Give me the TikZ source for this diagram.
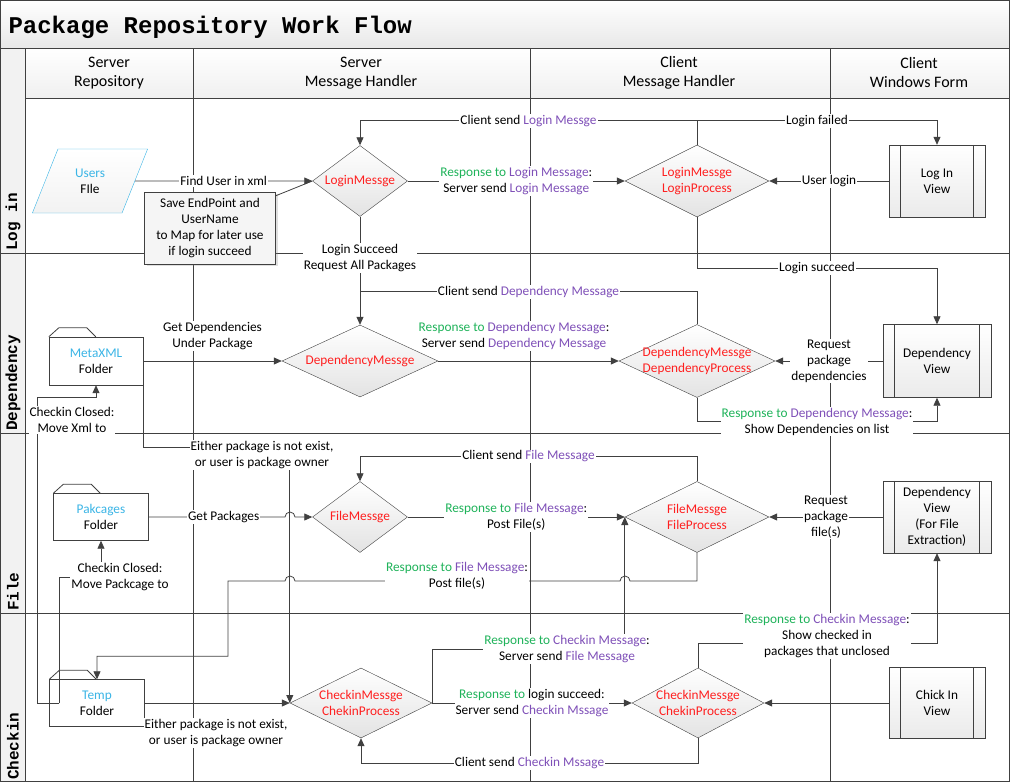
\documentclass[tikz,border=0pt]{standalone}
\usepackage{fontspec}
\setmainfont{Carlito}
\setmonofont{Liberation Mono}
\usepackage{tikz}
\usetikzlibrary{arrows.meta,positioning,calc,shapes.geometric,shadows}

\definecolor{linegray}{HTML}{404040}
\definecolor{pkgcyan}{HTML}{3BB5E6}
\definecolor{pkgred}{HTML}{FF1F1F}
\definecolor{pkggreen}{HTML}{1FB35A}
\definecolor{pkgpurple}{HTML}{7F50B8}

\newcommand{\resp}[1]{\textcolor{pkggreen}{#1}}
\newcommand{\msg}[1]{\textcolor{pkgpurple}{#1}}
\newcommand{\src}[1]{\textcolor{pkgcyan}{#1}}

\tikzset{
  frame/.style={draw=linegray, line width=0.8pt},
  flow/.style={draw=linegray, line width=0.8pt, -{Triangle[length=8pt,width=7pt]}},
  plain/.style={draw=linegray, line width=0.8pt},
  lbl/.style={fill=white, inner sep=1pt, align=center},
  hdr/.style={font=\fontsize{16}{19}\selectfont, align=center},
  lanelbl/.style={font=\ttfamily\bfseries\fontsize{16}{19}\selectfont, rotate=90, anchor=west, inner sep=0pt},
  decision/.style={diamond, draw=linegray, top color=white, bottom color=gray!22,
    text=pkgred, align=center, inner xsep=-9pt, inner ysep=0pt},
  view/.style={rectangle, draw=linegray, top color=white, bottom color=gray!16, align=center, inner sep=1pt},
  folder/.style={rectangle, draw=linegray, fill=white, align=center, minimum width=95, minimum height=47},
  datafile/.style={trapezium, trapezium left angle=65, trapezium right angle=115, trapezium stretches=true,
    draw=pkgcyan, top color=white, bottom color=gray!10, minimum width=116, minimum height=64, align=center},
  note/.style={rectangle, draw=linegray, fill=gray!8, align=center, minimum width=131, minimum height=72,
    drop shadow={opacity=0.25, shadow xshift=2pt, shadow yshift=-2pt}}
}

\begin{document}
\begin{tikzpicture}[x=1pt, y=-1pt, font=\fontsize{13.3}{16}\selectfont]
  \useasboundingbox (0,0) rectangle (1010,782);
  % backgrounds
  \shade[top color=white, bottom color=gray!18] (0,0) rectangle (1010,48);
  \shade[top color=white, bottom color=gray!12] (25,48) rectangle (1010,98);
  \fill[gray!10] (0,48) rectangle (25,782);
  % swimlane grid
  \draw[frame] (0.5,0.5) rectangle (1009.5,781.5);
  \draw[frame] (0,48) -- (1010,48);
  \draw[frame] (25,98) -- (1010,98);
  \foreach \y in {253,433,613} \draw[frame] (0,\y) -- (1010,\y);
  \draw[frame] (25,48) -- (25,782);
  \foreach \x in {193,530,830} \draw[plain] (\x,48) -- (\x,782);

  % title and headers
  \node[anchor=base west, font=\ttfamily\bfseries\fontsize{24}{28}\selectfont] (title) at (5,33) {Package Repository Work Flow};
  \node[hdr] (hSrvRepo) at (109,73) {Server\\Repository};
  \node[hdr] (hSrvMsg) at (361,73) {Server\\Message Handler};
  \node[hdr] (hCliMsg) at (679,73) {Client\\Message Handler};
  \node[hdr] (hCliForm) at (919,73) {Client\\Windows Form};
  \foreach \ybot/\txt [count=\i] in {251/Log in, 431/Dependency, 611/File, 780/Checkin}
    \node[lanelbl] (lane\i) at (13,\ybot) {\txt};

  % Log in
  \node[datafile] (users) at (90,181) {\src{Users}\\FIle};
  \node[note] (saveNote) at (210,228) {Save EndPoint and\\UserName\\to Map for later use\\if login succeed};
  \node[decision, minimum width=95, minimum height=71, aspect=1.34] (loginS) at (360,181) {LoginMessge};
  \node[decision, minimum width=144, minimum height=72, aspect=2] (loginC) at (697,181) {LoginMessge\\LoginProcess};
  \node[view, minimum width=96, minimum height=72] (loginV) at (937,181) {Log In\\View};
  % Dependency
  \node[folder, minimum width=94, minimum height=48] (metaF) at (96,361) {\src{MetaXML}\\Folder};
  \node[decision, minimum width=156, minimum height=72, aspect=2.17] (depS) at (360,361) {DependencyMessge};
  \node[decision, minimum width=156, minimum height=73, aspect=2.14] (depC) at (697,361) {DependencyMessge\\DependencyProcess};
  \node[view, minimum width=108, minimum height=73] (depV) at (937,361) {Dependency\\View};
  % File
  \node[folder] (pkgF) at (101,517) {\src{Pakcages}\\Folder};
  \node[decision, minimum width=95, minimum height=71, aspect=1.34] (fileS) at (360,517) {FileMessge};
  \node[decision, minimum width=144, minimum height=71, aspect=2.03] (fileC) at (697,517) {FileMessge\\FileProcess};
  \node[view, minimum width=108, minimum height=72] (fileV) at (937,517) {Dependency\\View\\(For File\\Extraction)};
  % Checkin
  \node[folder] (tempF) at (97,703) {\src{Temp}\\Folder};
  \node[decision, minimum width=142, minimum height=70, aspect=2.03] (chkS) at (361,703) {CheckinMessge\\ChekinProcess};
  \node[decision, minimum width=132, minimum height=70, aspect=1.89] (chkC) at (698,703) {CheckinMessge\\ChekinProcess};
  \node[view, minimum width=96, minimum height=71] (chkV) at (937,703) {Chick In\\View};

  % view side bars and folder tabs
  \foreach \v in {loginV,depV,fileV,chkV}{
    \draw[plain] ([xshift=12pt]\v.north west) -- ([xshift=12pt]\v.south west);
    \draw[plain] ([xshift=-12pt]\v.north east) -- ([xshift=-12pt]\v.south east);
  }
  \foreach \f in {metaF,pkgF,tempF}
    \draw[plain] (\f.north west) -- ++(10,-9) -- ++(28,0) -- ++(9,9);

  % Log in connectors
  \draw[flow] (users) -- (loginS) node[lbl,midway] {Find User in xml};
  \draw[plain] ([yshift=-4pt]saveNote.north east) -- (loginS.west);
  \draw[flow] (loginS) -- (loginC) node[lbl,midway] {\resp{Response to} \msg{Login Message}:\\Server send \msg{Login Message}};
  \draw[flow] (loginC.north) -- ++(0,-24) -| (loginS.north) node[lbl,pos=0.25] {Client send \msg{Login Messge}};
  \draw[flow] (loginC.north) -- ++(0,-24) -| (loginV.north) node[lbl,pos=0.25] {Login failed};
  \draw[flow] (loginV) -- (loginC) node[lbl,midway] {User login};
  \draw[flow] (loginS) -- (depS) node[lbl,pos=0.38] {Login Succeed\\Request All Packages};
  \draw[flow] (loginC.south) -- ++(0,51) -| (depV.north) node[lbl,pos=0.25] {Login succeed};

  % Dependency connectors
  \draw[flow] (metaF) -- (depS) node[lbl,midway,yshift=25pt] {Get Dependencies\\Under Package};
  \draw[flow] (depS) -- (depC) node[lbl,pos=0.42,yshift=25pt] {\resp{Response to} \msg{Dependency Message}:\\Server send \msg{Dependency Message}};
  \draw[plain] (depC.north) |- ($(depS.north)+(0,-33)$) node[lbl,pos=0.75] {Client send \msg{Dependency Message}};
  \draw[flow] (depV) -- (depC) node[lbl,midway] {Request\\package\\dependencies};
  \draw[flow] (depC.south) -- ++(0,24) -| (depV.south) node[lbl,pos=0.25] {\resp{Response to} \msg{Dependency Message}:\\Show Dependencies on list};
  \draw[flow] (metaF.south east) -- ++(0,62) -| (chkS.west);

  % File connectors
  \draw[flow] (pkgF) -- node[lbl,pos=0.55] {Get Packages} (285,517) arc (180:360:5) -- (fileS);
  \draw[flow] (fileS) -- (fileC) node[lbl,midway] {\resp{Response to} \msg{File Message}:\\Post File(s)};
  \draw[flow] (fileC.north) -- ++(0,-25) -| (fileS.north) node[lbl,pos=0.25] {Client send \msg{File Message}};
  \draw[flow] (fileV) -- (fileC) node[lbl,midway] {Request\\package\\file(s)};
  \draw[flow] (fileC.south) |- (630,581) arc (0:-180:5) -- (295,581) arc (0:-180:5) -- (228,581)
    |- ($(tempF.north)+(0,-23)$) -- (tempF.north);

  % Checkin connectors
  \draw[flow] (chkS.east) |- ($(fileC.west)+(0,132)$) -- (fileC.west);
  \draw[flow] (chkS) -- (chkC) node[lbl,midway] {\resp{Response to} login succeed:\\Server send \msg{Checkin Mssage}};
  \draw[flow] (chkV) -- (chkC);
  \draw[flow] (chkC.south) -- ++(0,25) -| (chkS.south) node[lbl,pos=0.25] {Client send \msg{Checkin Mssage}};
  \draw[flow] (chkC.north) -- ++(0,-24) -| (fileV.south) node[lbl,pos=0.27,yshift=8pt] {\resp{Response to} \msg{Checkin Message}:\\Show checked in\\packages that unclosed};
  \coordinate (tempTap) at ($(tempF.west)+(10,0)$);
  \draw[flow] (tempTap) -- ++(-22,0) |- ($(metaF.south)+(0,12)$) -- (metaF.south);
  \draw[flow] (tempTap) |- ($(pkgF.south)+(0,37)$) -- (pkgF.south);
  \draw[flow] (tempF) -- (chkS);

  % free labels
  \node[lbl] (ownerLbl) at (262,455) {Either package is not exist,\\or user is package owner};
  \node[lbl] (ownerLbl2) at (216,733) {Either package is not exist,\\or user is package owner};
  \node[lbl] (postLbl) at (457,576) {\resp{Response to} \msg{File Message}:\\Post file(s)};
  \node[lbl] (chkRespLbl) at (567,649) {\resp{Response to} \msg{Checkin Message}:\\Server send \msg{File Message}};
  \node[lbl] (xmlLbl) at (72,420) {Checkin Closed:\\Move Xml to};
  \node[lbl] (pkgLbl) at (120,577) {Checkin Closed:\\Move Packcage to};
\end{tikzpicture}
\end{document}
